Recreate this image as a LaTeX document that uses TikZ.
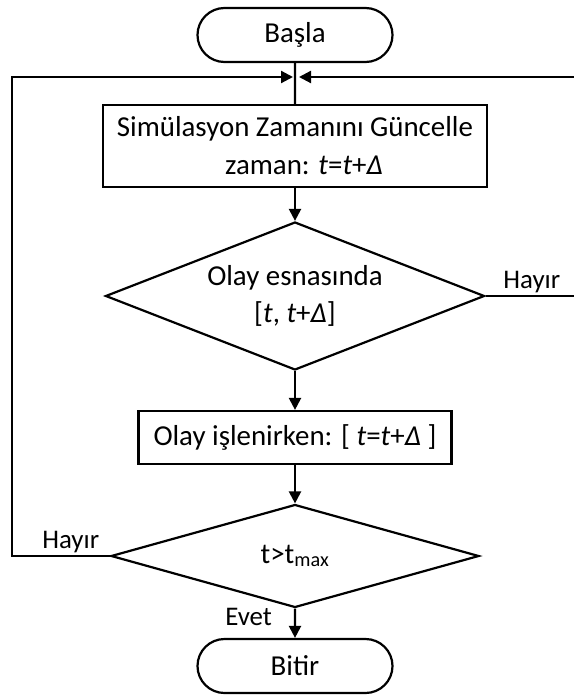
\documentclass[tikz,border=0pt]{standalone}
\usepackage{fontspec}
\setmainfont{Carlito}
\usetikzlibrary{arrows.meta, shapes.geometric, shapes.misc, positioning}

\begin{document}
\begin{tikzpicture}[x=1bp, y=-1bp,
        every node/.style={font=\fontsize{29}{38}\selectfont},
        terminal/.style={draw, rounded rectangle, line width=2.2bp, inner sep=0pt, minimum width=195bp, minimum height=54bp},
        process/.style={draw, rectangle, line width=2.2bp, inner sep=0pt, align=center},
        decision/.style={draw, diamond, line width=2.2bp, inner sep=0pt, align=center},
        flow/.style={-{Triangle[length=12bp, width=12bp]}, line width=2.2bp},
        link/.style={line width=2.2bp},
        answer/.style={font=\fontsize{27}{30}\selectfont, inner sep=2bp}
    ]
        \useasboundingbox (0,0) rectangle (574,695);

        % Nodes
        \node[terminal] (start) at (295,35) {Başla};
        \node[process, minimum width=384bp, minimum height=82bp] (update) at (295,146)
            {Simülasyon Zamanını Güncelle\\\hspace*{18bp}zaman: \textit{t}=\textit{t}+\textit{Δ}};
        \node[decision, aspect=2.56, minimum width=379bp, minimum height=148bp] (event) at (295,296)
            {Olay esnasında\\{}[\textit{t}, \textit{t}+\textit{Δ}]};
        \node[process, minimum width=313bp, minimum height=53bp] (handle) at (295,437.5)
            {Olay işlenirken: [ \textit{t}=\textit{t}+\textit{Δ} ]};
        \node[decision, aspect=3.57, minimum width=368bp, minimum height=103bp] (check) at (295,556)
            {t>t\textsubscript{max}};
        \node[terminal] (stop) at (295,666) {Bitir};

        % Loop rails
        \coordinate (merge) at (295,77);
        \coordinate (leftrail) at (12,77);
        \coordinate (rightrail) at (578,77);

        % Flow
        \draw[link] (start) -- (update);
        \draw[flow] (update) -- (event);
        \draw[flow] (event) -- (handle);
        \draw[flow] (handle) -- (check);
        \draw[flow] (check) -- node[answer, left=20bp, pos=0.3] {Evet} (stop);

        % Back to the update step
        \draw[flow] (check.west) -| node[answer, pos=0.2, above] {Hayır} (leftrail) -- ([xshift=-2bp]merge);
        \draw[flow] (event.east) -| node[answer, pos=0.25, above] {Hayır} (rightrail) -- ([xshift=4bp]merge);
    \end{tikzpicture}
\end{document}
